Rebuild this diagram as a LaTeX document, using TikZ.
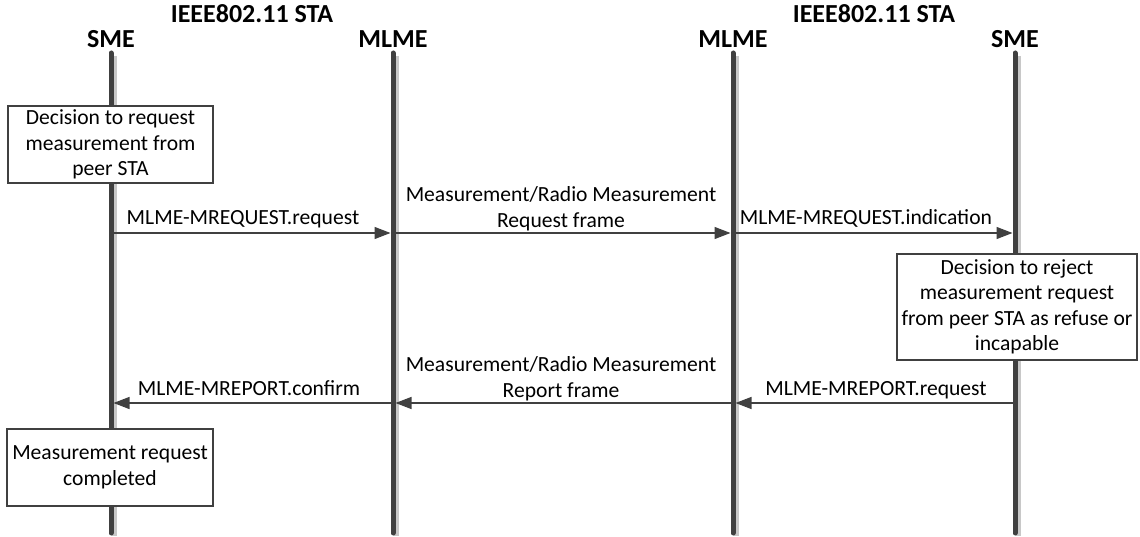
\documentclass[tikz,border=0pt]{standalone}
\usepackage{fontspec}
\setmainfont{Carlito}
\usetikzlibrary{arrows.meta}
\definecolor{life}{HTML}{404040}
\definecolor{shade}{HTML}{C8C8C8}
\begin{document}
\begin{tikzpicture}[x=1pt,y=-1pt,
  lifeline/.style={line width=5pt,line cap=round,draw=life},
  lifeshadow/.style={line width=5pt,draw=shade},
  msg/.style={line width=1.3pt,draw=life,-{Triangle[length=16pt,width=12pt]}},
  lbl/.style={font=\fontsize{21.6}{25.5}\selectfont,anchor=base,inner sep=0pt,align=center},
  hdr/.style={font=\fontsize{26}{30}\selectfont\bfseries,anchor=base,inner sep=0pt},
  note/.style={draw=life,line width=1.2pt,fill=white,align=center,inner sep=0pt,
     font=\fontsize{21.6}{25.5}\selectfont}]
\useasboundingbox (0,0) rectangle (1140,537);
% lifeline coordinates
\foreach \n/\x in {smeA/111,mlmeA/393,mlmeB/733,smeB/1015}{
  \coordinate (\n-t) at (\x,53);
  \coordinate (\n-b) at (\x,533);
  \coordinate (\n-st) at (\x+3,56);
  \coordinate (\n-sb) at (\x+3,536);
}
\foreach \n in {smeA,mlmeA,mlmeB,smeB}{
  \draw[lifeshadow] (\n-st) -- (\n-sb);
  \draw[lifeline] (\n-t) -- (\n-b);
}
% headers
\node[hdr] (staA) at (252,23) {IEEE802.11 STA};
\node[hdr] (staB) at (874,23) {IEEE802.11 STA};
\node[hdr] (hSmeA) at (111,48) {SME};
\node[hdr] (hMlmeA) at (393,48) {MLME};
\node[hdr] (hMlmeB) at (733,48) {MLME};
\node[hdr] (hSmeB) at (1015,48) {SME};
% notes
\node[note,minimum width=205pt,minimum height=77pt] (n1) at (110.5,144.5)
  {Decision to request\\measurement from\\peer STA};
\node[note,minimum width=240pt,minimum height=106pt] (n2) at (1017,307)
  {Decision to reject\\measurement request\\from peer STA as refuse or\\incapable};
\node[note,minimum width=206pt,minimum height=77pt] (n3) at (110,467.5)
  {Measurement request\\completed};
% message coordinates
\coordinate (r1s) at (111,233);  \coordinate (r1e) at (390.5,233);
\coordinate (r2s) at (393,233);  \coordinate (r2e) at (730.5,233);
\coordinate (r3s) at (733,233);  \coordinate (r3e) at (1012.5,233);
\coordinate (p1s) at (1015,403); \coordinate (p1e) at (735.5,403);
\coordinate (p2s) at (733,403);  \coordinate (p2e) at (395.5,403);
\coordinate (p3s) at (393,403);  \coordinate (p3e) at (113.5,403);
\draw[msg] (r1s) -- (r1e);
\draw[msg] (r2s) -- (r2e);
\draw[msg] (r3s) -- (r3e);
\draw[msg] (p1s) -- (p1e);
\draw[msg] (p2s) -- (p2e);
\draw[msg] (p3s) -- (p3e);
% labels
\node[lbl] (l1) at (243,225) {MLME-MREQUEST.request};
\node[lbl,anchor=south] (l2) at (561,231) {Measurement/Radio Measurement\\Request frame};
\node[lbl] (l3) at (866,225) {MLME-MREQUEST.indication};
\node[lbl] (l4) at (876,395) {MLME-MREPORT.request};
\node[lbl,anchor=south] (l5) at (561,401) {Measurement/Radio Measurement\\Report frame};
\node[lbl] (l6) at (249,395) {MLME-MREPORT.confirm};
\end{tikzpicture}
\end{document}
